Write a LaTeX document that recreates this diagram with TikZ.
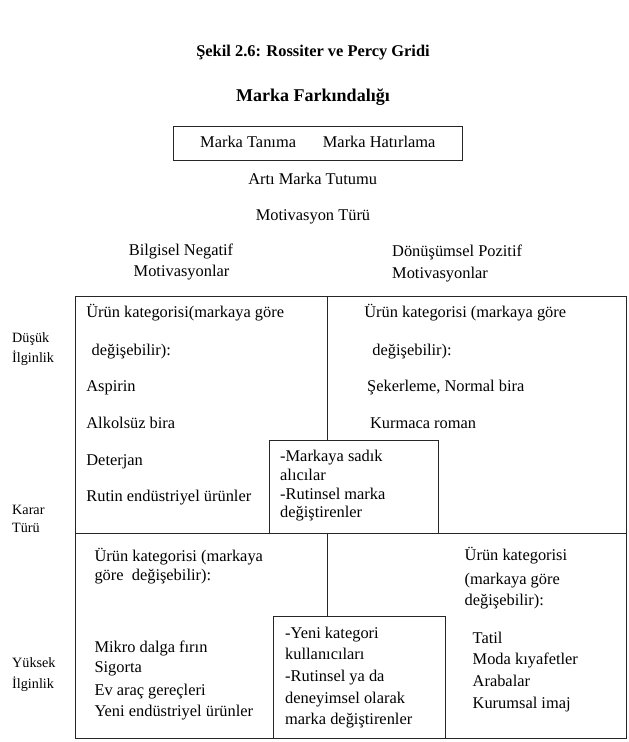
\documentclass[tikz,border=0pt]{standalone}
\usepackage{fontspec}
\setmainfont{Liberation Serif}
\newcommand\bodyfont{\fontsize{16.4}{20}\selectfont}
\newcommand\sidefont{\fontsize{14.2}{18}\selectfont}
\newcommand\titlefont{\fontsize{16.4}{20}\selectfont\bfseries}
\newcommand\headfont{\fontsize{18}{22}\selectfont\bfseries}
\begin{document}
\begin{tikzpicture}[x=1pt,y=-1pt,
  txt/.style={anchor=base west, inner sep=0pt, font=\bodyfont},
  ctxt/.style={anchor=base, inner sep=0pt, font=\bodyfont},
  side/.style={anchor=base west, inner sep=0pt, font=\sidefont},
  box/.style={draw=black!85, line width=1pt, inner sep=0pt, anchor=north west},
  rule/.style={draw=black!85, line width=1pt}]
\useasboundingbox (0,0) rectangle (629,742);

% header
\node[anchor=base, inner sep=0pt, font=\titlefont] (title) at (313,56) {Şekil 2.6: Rossiter ve Percy Gridi};
\node[anchor=base, inner sep=0pt, font=\headfont] (head) at (313,101) {Marka Farkındalığı};
\node[box, minimum width=289pt, minimum height=34pt] (mf) at (173,126) {};
\node[txt] (tanima) at (200,147.5) {Marka Tanıma};
\node[txt] (hatir) at (322.7,147.5) {Marka Hatırlama};
\node[ctxt] (arti) at (312.7,184) {Artı Marka Tutumu};
\node[ctxt] (motiv) at (313,220) {Motivasyon Türü};
\node[ctxt] (bilg1) at (181,255) {Bilgisel Negatif};
\node[ctxt] (bilg2) at (181.5,276.5) {Motivasyonlar};
\node[txt] (don1) at (392,256.5) {Dönüşümsel Pozitif};
\node[txt] (don2) at (392,278) {Motivasyonlar};

% grid
\node[box, minimum width=551pt, minimum height=442pt] (grid) at (75,296) {};
\coordinate (midL) at (75,533);
\coordinate (midR) at (626,533);
\coordinate (divT) at (327.7,296);
\node[box, minimum width=169pt, minimum height=93pt] (ib1) at (268.7,440) {};
\node[box, minimum width=171.5pt, minimum height=122.5pt] (ib2) at (273,615.5) {};
\draw[rule] (midL) -- (midR);
\draw[rule] (divT) -- (ib1.north -| divT);
\draw[rule] (midL -| divT) -- (ib2.north -| divT);

% side labels
\node[side] (s1) at (12,342) {Düşük};
\node[side] (s2) at (12,362) {İlginlik};
\node[side] (s3) at (12,514.5) {Karar};
\node[side] (s4) at (12,532.5) {Türü};
\node[side] (s5) at (12,667) {Yüksek};
\node[side] (s6) at (12,688) {İlginlik};

% top left
\node[txt] (a1) at (86.2,317.5) {Ürün kategorisi(markaya göre};
\node[txt] (a2) at (91.5,355.5) {değişebilir):};
\node[txt] (a3) at (86.2,391) {Aspirin};
\node[txt] (a4) at (86.2,428) {Alkolsüz bira};
\node[txt] (a5) at (86.2,465) {Deterjan};
\node[txt] (a6) at (86.2,501.5) {Rutin endüstriyel ürünler};

% top right
\node[txt] (b1) at (364.2,317.5) {Ürün kategorisi (markaya göre};
\node[txt] (b2) at (372.2,355.5) {değişebilir):};
\node[txt] (b3) at (367,391) {Şekerleme, Normal bira};
\node[txt] (b4) at (369.8,428) {Kurmaca roman};

% inner box 1
\node[txt] (c1) at (280,461.5) {-Markaya sadık};
\node[txt] (c2) at (280,480) {alıcılar};
\node[txt] (c3) at (280,499) {-Rutinsel marka};
\node[txt] (c4) at (280,517) {değiştirenler};

% bottom left
\node[txt] (d1) at (94.3,561.5) {Ürün kategorisi (markaya};
\node[txt] (d2) at (94.3,580) {göre\ \ değişebilir):};
\node[txt] (d3) at (94.3,652) {Mikro dalga fırın};
\node[txt] (d4) at (94.3,672.5) {Sigorta};
\node[txt] (d5) at (94.3,695) {Ev araç gereçleri};
\node[txt] (d6) at (94.3,716.5) {Yeni endüstriyel ürünler};

% bottom right
\node[txt] (e1) at (464.5,560.5) {Ürün kategorisi};
\node[txt] (e2) at (464.5,584) {(markaya göre};
\node[txt] (e3) at (464.5,605.5) {değişebilir):};
\node[txt] (e4) at (472.5,643) {Tatil};
\node[txt] (e5) at (472.5,664) {Moda kıyafetler};
\node[txt] (e6) at (472.5,686.5) {Arabalar};
\node[txt] (e7) at (472.5,708) {Kurumsal imaj};

% inner box 2
\node[txt] (f1) at (285,638) {-Yeni kategori};
\node[txt] (f2) at (285,659) {kullanıcıları};
\node[txt] (f3) at (285,681) {-Rutinsel ya da};
\node[txt] (f4) at (285,703) {deneyimsel olarak};
\node[txt] (f5) at (285,724.5) {marka değiştirenler};
\end{tikzpicture}
\end{document}
